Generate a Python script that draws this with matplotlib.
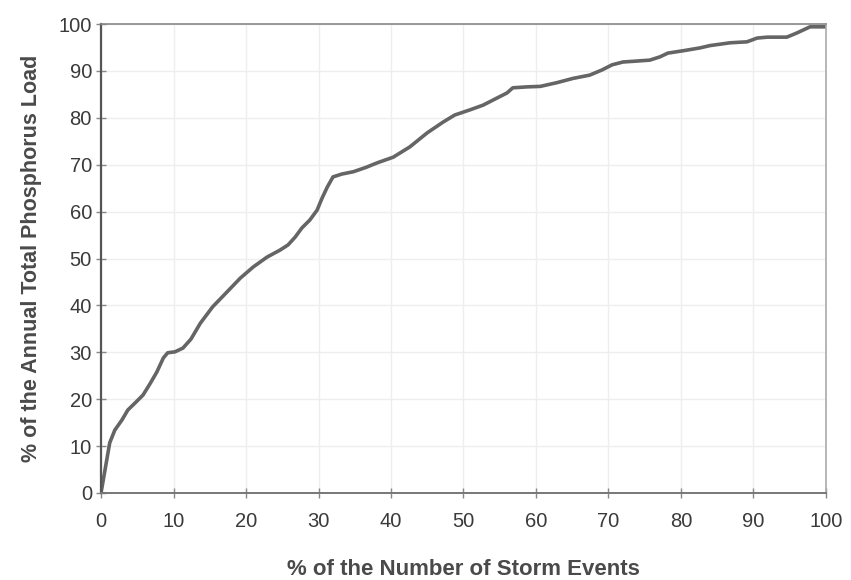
import numpy as np
import matplotlib
matplotlib.use('Agg')
import matplotlib.pyplot as plt

plt.rcParams['font.family'] = ['Liberation Sans', 'DejaVu Sans']

# cumulative % of storm events vs cumulative % of annual TP load
storm_pct = [0, 0.55, 1.2, 1.9, 2.9, 3.7, 4.7, 5.8, 6.8, 7.7, 8.6, 9.2, 10.2, 11.3,
             12.4, 13.7, 15.4, 17.4, 19.2, 21.0, 22.9, 24.7, 25.8, 26.8, 27.7, 28.8,
             29.8, 30.5, 31.2, 32.0, 33.2, 34.8, 36.5, 38.1, 40.3, 42.6, 45.0, 47.2,
             48.8, 50.9, 52.7, 54.6, 56.0, 56.8, 58.8, 60.6, 62.9, 65.1, 67.4, 69.1,
             70.5, 72.0, 73.9, 75.7, 77.1, 78.2, 80.3, 82.6, 84.0, 86.8, 89.1, 90.5,
             91.9, 94.6, 96.0, 97.8, 100]
load_pct = [0, 4.9, 10.7, 13.4, 15.6, 17.7, 19.2, 20.9, 23.4, 25.8, 28.8, 29.9, 30.1,
            30.9, 32.8, 36.2, 39.7, 42.9, 45.8, 48.2, 50.3, 51.8, 52.9, 54.6, 56.5,
            58.2, 60.3, 62.9, 65.2, 67.4, 68.0, 68.5, 69.4, 70.4, 71.6, 73.8, 76.8,
            79.1, 80.6, 81.7, 82.7, 84.2, 85.3, 86.4, 86.6, 86.7, 87.5, 88.4, 89.1,
            90.2, 91.3, 91.9, 92.1, 92.3, 93.0, 93.8, 94.3, 94.9, 95.4, 96.0, 96.2,
            97.0, 97.2, 97.2, 98.1, 99.4, 99.4]

x_ticks = np.arange(0, 101, 10)
y_ticks = np.arange(0, 101, 10)

fig = plt.figure(figsize=(8.51, 5.80), dpi=100)
ax = fig.add_axes([0.1187, 0.15, 0.8519, 0.8086])

ax.plot(storm_pct, load_pct, color='#656565', linewidth=2.6,
        solid_capstyle='round', solid_joinstyle='round')

ax.set_xlim(0, 100)
ax.set_ylim(0, 100)
ax.set_xticks(x_ticks)
ax.set_yticks(y_ticks)
ax.grid(True, color='#eeeeee', linewidth=1.0)
ax.set_axisbelow(True)

ax.tick_params(axis='both', direction='inout', length=7, width=1, color='#888888',
               labelsize=14.5, labelcolor='#3a3a3a')
ax.tick_params(axis='x', pad=10)
ax.tick_params(axis='y', pad=3)

ax.spines['left'].set_color('#555555')
ax.spines['left'].set_linewidth(1.6)
ax.spines['bottom'].set_color('#777777')
ax.spines['bottom'].set_linewidth(1.4)
ax.spines['top'].set_color('#888888')
ax.spines['top'].set_linewidth(1.2)
ax.spines['right'].set_color('#aaaaaa')
ax.spines['right'].set_linewidth(1.2)

ax.set_xlabel('% of the Number of Storm Events', fontsize=16, fontweight='bold',
              color='#4a4a4a', labelpad=20)
ax.set_ylabel('% of the Annual Total Phosphorus Load', fontsize=15.5, fontweight='bold',
              color='#4a4a4a', labelpad=12)

fig.savefig('out.png', dpi=100)
